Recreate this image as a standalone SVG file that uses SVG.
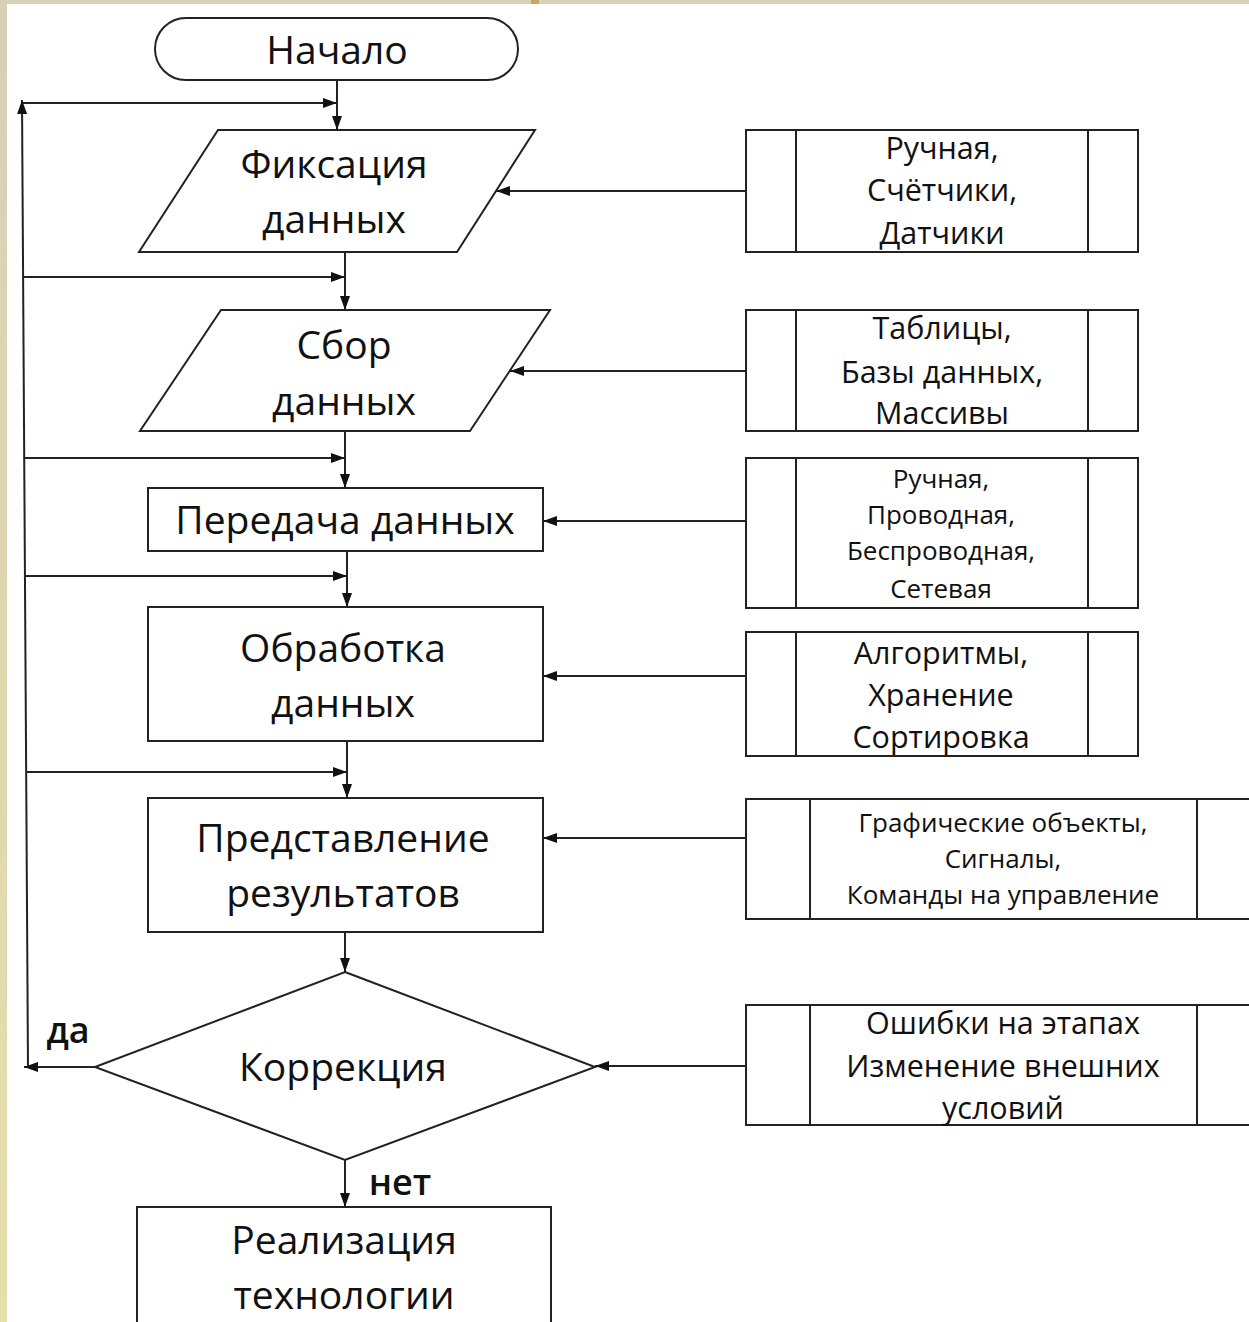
<svg xmlns="http://www.w3.org/2000/svg" width="1249" height="1322" viewBox="0 0 1249 1322">
<defs>
<linearGradient id="side" x1="0" y1="0" x2="0" y2="1">
<stop offset="0" stop-color="#d8d0b6"/>
<stop offset="1" stop-color="#e4e0aa"/>
</linearGradient>
<marker id="ah" markerUnits="userSpaceOnUse" markerWidth="14" markerHeight="10" refX="14" refY="5" orient="auto">
<path d="M0,0 L14,5 L0,10 z" fill="#111"/>
</marker>
</defs>
<style>
.s{fill:#fff;stroke:#222;stroke-width:2}
.c{fill:none;stroke:#222;stroke-width:2;marker-end:url(#ah)}
.l{fill:none;stroke:#222;stroke-width:2}
.t{font-family:"Open Sans","Noto Sans",sans-serif;fill:#111;text-anchor:middle;dominant-baseline:central;font-weight:500}
.m{font-size:39px}
.b{font-size:30.5px}
.sm{font-size:26px}
.lab{font-size:36px;font-weight:600}
</style>
<rect x="0" y="0" width="1249" height="1322" fill="#fff"/>
<rect x="0" y="0" width="1249" height="4" fill="#d8d2b8"/>
<rect x="0" y="0" width="7" height="1322" fill="url(#side)"/>
<rect x="531" y="0" width="8" height="4" fill="#c9a26a"/>

<g id="start">
<rect class="s" x="155" y="18" width="363" height="62" rx="31" ry="31"/>
<text class="t m" x="337" y="48">Начало</text>
</g>
<g id="fix">
<polygon class="s" points="218,130 535,130 457,252 139,252"/>
<text class="t m" x="334" y="162">Фиксация</text>
<text class="t m" x="334" y="217">данных</text>
</g>
<g id="sbor">
<polygon class="s" points="221,310 550,310 470,431 140,431"/>
<text class="t m" x="344" y="343">Сбор</text>
<text class="t m" x="344" y="399">данных</text>
</g>
<g id="pered">
<rect class="s" x="148" y="488" width="395" height="63"/>
<text class="t m" x="345" y="518">Передача данных</text>
</g>
<g id="obr">
<rect class="s" x="148" y="607" width="395" height="134"/>
<text class="t m" x="343" y="646">Обработка</text>
<text class="t m" x="343" y="701">данных</text>
</g>
<g id="pred">
<rect class="s" x="148" y="798" width="395" height="134"/>
<text class="t m" x="343" y="836">Представление</text>
<text class="t m" x="343" y="891">результатов</text>
</g>
<g id="korr">
<polygon class="s" points="345,972 595,1067 345,1160 95,1067"/>
<text class="t m" x="343" y="1065">Коррекция</text>
</g>
<g id="real">
<rect class="s" x="137" y="1207" width="414" height="130"/>
<text class="t m" x="344" y="1238">Реализация</text>
<text class="t m" x="344" y="1293">технологии</text>
</g>

<g id="p1">
<rect class="s" x="746" y="130" width="392" height="122"/>
<line class="l" x1="796" y1="130" x2="796" y2="252"/>
<line class="l" x1="1088" y1="130" x2="1088" y2="252"/>
<text class="t b" x="942" y="147">Ручная,</text>
<text class="t b" x="942" y="189">Счётчики,</text>
<text class="t b" x="942" y="232">Датчики</text>
</g>
<g id="p2">
<rect class="s" x="746" y="310" width="392" height="121"/>
<line class="l" x1="796" y1="310" x2="796" y2="431"/>
<line class="l" x1="1088" y1="310" x2="1088" y2="431"/>
<text class="t b" x="942" y="327">Таблицы,</text>
<text class="t b" x="942" y="371">Базы данных,</text>
<text class="t b" x="942" y="412">Массивы</text>
</g>
<g id="p3">
<rect class="s" x="746" y="458" width="392" height="150"/>
<line class="l" x1="796" y1="458" x2="796" y2="608"/>
<line class="l" x1="1088" y1="458" x2="1088" y2="608"/>
<text class="t sm" x="941" y="478">Ручная,</text>
<text class="t sm" x="941" y="514">Проводная,</text>
<text class="t sm" x="941" y="550">Беспроводная,</text>
<text class="t sm" x="941" y="588">Сетевая</text>
</g>
<g id="p4">
<rect class="s" x="746" y="632" width="392" height="124"/>
<line class="l" x1="796" y1="632" x2="796" y2="756"/>
<line class="l" x1="1088" y1="632" x2="1088" y2="756"/>
<text class="t b" x="941" y="652">Алгоритмы,</text>
<text class="t b" x="941" y="694">Хранение</text>
<text class="t b" x="941" y="736">Сортировка</text>
</g>
<g id="p5">
<rect class="s" x="746" y="799" width="520" height="120"/>
<line class="l" x1="810" y1="799" x2="810" y2="919"/>
<line class="l" x1="1197" y1="799" x2="1197" y2="919"/>
<text class="t sm" x="1003" y="822">Графические объекты,</text>
<text class="t sm" x="1003" y="858">Сигналы,</text>
<text class="t sm" x="1003" y="894">Команды на управление</text>
</g>
<g id="p6">
<rect class="s" x="746" y="1005" width="520" height="120"/>
<line class="l" x1="810" y1="1005" x2="810" y2="1125"/>
<line class="l" x1="1197" y1="1005" x2="1197" y2="1125"/>
<text class="t b" x="1003" y="1022">Ошибки на этапах</text>
<text class="t b" x="1003" y="1065">Изменение внешних</text>
<text class="t b" x="1003" y="1107">условий</text>
</g>

<g id="connectors">
<line class="c" x1="337" y1="80" x2="337" y2="130"/>
<line class="c" x1="22" y1="103" x2="337" y2="103"/>
<line class="c" x1="28" y1="1068" x2="22" y2="100"/>
<line class="c" x1="345" y1="252" x2="345" y2="310"/>
<line class="c" x1="23" y1="277" x2="345" y2="277"/>
<line class="c" x1="345" y1="431" x2="345" y2="488"/>
<line class="c" x1="24" y1="458" x2="345" y2="458"/>
<line class="c" x1="347" y1="551" x2="347" y2="607"/>
<line class="c" x1="25" y1="576" x2="347" y2="576"/>
<line class="c" x1="347" y1="741" x2="347" y2="798"/>
<line class="c" x1="26" y1="772" x2="347" y2="772"/>
<line class="c" x1="345" y1="932" x2="345" y2="972"/>
<line class="c" x1="95" y1="1067" x2="24" y2="1067"/>
<line class="c" x1="345" y1="1160" x2="345" y2="1207"/>
<line class="c" x1="746" y1="191" x2="496" y2="191"/>
<line class="c" x1="746" y1="371" x2="510" y2="371"/>
<line class="c" x1="746" y1="521" x2="543" y2="521"/>
<line class="c" x1="746" y1="676" x2="543" y2="676"/>
<line class="c" x1="746" y1="838" x2="543" y2="838"/>
<line class="c" x1="746" y1="1066" x2="595" y2="1066"/>
<text class="t lab" x="68" y="1029">да</text>
<text class="t lab" x="400" y="1181">нет</text>
</g>
</svg>
